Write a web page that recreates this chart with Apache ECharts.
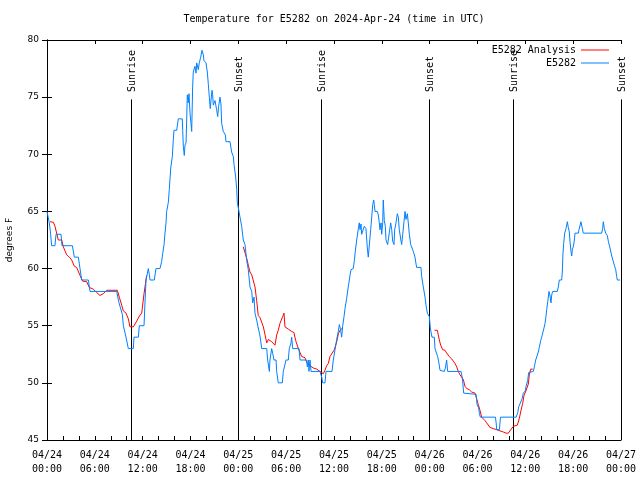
<!DOCTYPE html>
<html>
<head>
<meta charset="utf-8">
<script src="https://cdn.jsdelivr.net/npm/echarts@6/dist/echarts.min.js"></script>
<style>html,body{margin:0;padding:0;background:#fff}#main{width:640px;height:480px}</style>
</head>
<body>
<div id="main"></div>
<script>
// hours since 2024-04-24 00:00 UTC
const tickLabels = ['04/24\n00:00','04/24\n06:00','04/24\n12:00','04/24\n18:00','04/25\n00:00','04/25\n06:00','04/25\n12:00','04/25\n18:00','04/26\n00:00','04/26\n06:00','04/26\n12:00','04/26\n18:00','04/27\n00:00'];
const yTicks = [45, 50, 55, 60, 65, 70, 75, 80];

const eventHours = [10.48, 23.9, 34.42, 47.97, 58.51, 71.98];
const eventNames = ['Sunrise', 'Sunset', 'Sunrise', 'Sunset', 'Sunrise', 'Sunset'];

const obsHours = [0.0,0.29,0.46,0.58,1.0,1.13,1.76,1.88,3.18,3.43,3.93,4.14,4.35,5.19,5.39,8.74,9.03,9.28,9.45,9.58,9.91,10.2,10.83,10.91,11.46,11.58,12.17,12.29,12.42,12.71,12.83,12.92,13.46,13.67,14.17,14.38,14.51,14.68,14.8,14.93,15.01,15.22,15.34,15.52,15.72,15.84,15.93,16.27,16.47,16.97,17.02,17.1,17.22,17.31,17.44,17.52,17.6,17.72,17.81,17.94,18.06,18.15,18.27,18.35,18.56,18.69,18.78,18.98,19.1,19.28,19.44,19.61,19.69,19.94,20.11,20.23,20.36,20.48,20.57,20.7,20.78,20.86,21.07,21.28,21.41,21.53,21.7,21.82,21.91,22.11,22.37,22.45,22.96,23.16,23.37,23.46,23.67,23.8,23.87,24.21,24.42,24.62,24.84,25.05,25.25,25.46,25.68,25.8,25.97,26.09,26.3,26.5,26.72,26.93,27.56,27.68,27.89,27.97,28.18,28.31,28.47,28.73,28.81,29.01,29.52,29.64,29.85,29.98,30.27,30.39,30.61,30.69,30.82,31.61,31.74,32.57,32.65,32.78,32.86,32.99,33.12,34.24,34.46,34.58,34.87,35.0,35.75,35.91,36.13,36.34,36.54,36.67,36.84,36.96,37.09,37.26,37.38,37.59,37.79,38.01,38.13,38.42,38.55,38.72,38.85,39.05,39.17,39.26,39.39,39.47,39.68,39.8,40.01,40.18,40.3,40.52,40.6,40.73,40.86,40.98,41.06,41.14,41.43,41.56,41.68,41.77,41.9,41.98,42.11,42.18,42.31,42.44,42.52,42.73,42.94,43.11,43.24,43.36,43.53,43.61,43.78,43.94,44.07,44.19,44.41,44.49,44.62,44.78,44.91,45.03,45.2,45.32,45.45,45.62,45.87,45.95,46.16,46.29,46.37,46.91,47.0,47.2,47.42,47.54,47.71,47.96,48.08,48.29,48.58,48.67,48.87,49.0,49.12,49.3,49.84,49.97,50.13,50.26,51.94,52.07,52.14,52.27,53.82,53.95,54.15,54.24,54.36,56.25,56.34,56.41,56.75,56.88,58.85,59.05,59.17,59.38,59.59,59.75,60.0,60.09,60.29,60.42,60.6,61.0,61.13,61.3,61.5,61.63,61.75,61.93,62.05,62.26,62.34,62.47,62.59,62.68,62.81,62.97,63.1,63.22,63.31,63.43,64.01,64.14,64.26,64.56,64.64,64.72,64.81,64.94,65.1,65.27,65.39,65.52,65.6,65.73,65.82,65.9,66.02,66.15,66.23,66.65,66.73,66.86,66.98,67.15,67.27,69.58,69.7,69.78,69.91,70.08,70.28,70.41,70.62,70.84,71.04,71.16,71.34,71.46,71.54,71.88];
const obsTemps = [65,64,63,62,62,63,63,62,62,61,61,60,59,59,58,58,57,57,56,55,54,53,53,54,54,55,55,57,59,60,59.5,59,59,60,60,60.6,61.3,62.1,63.1,64,65,65.8,66.9,68.8,69.8,71.2,72.1,72.1,73.1,73.1,72.1,70.7,69.9,70.8,71,73,75.2,74.5,75.3,73.6,72.7,72.0,75.9,77.2,77.7,77.1,78.0,77.4,78.0,78.5,79.1,78.7,78.2,78.0,77.2,76.2,75.0,74.0,74.7,75.6,75.2,74.3,74.7,73.9,73.3,74.2,75.0,74.4,72.7,72.0,71.7,71.1,71.1,70.2,69.8,69.1,68.0,66.9,65.8,64.5,63.7,62.5,62.1,60.7,59.9,58.4,58.0,57.0,57.5,56.1,55.5,54.8,54.1,53.0,53.0,52.0,51.0,52.0,53.0,52.6,52.0,52.0,51.0,50.0,50.0,51.0,51.0,52.0,52.0,53.0,53.5,54.0,53.0,53.0,52.0,52.0,51.4,52.0,51.0,52.0,51.0,51.0,50.5,50.0,50.0,51.0,51.0,52.0,52.9,53.8,54.5,55.1,54.6,54.0,55.0,55.8,56.5,57.4,58.4,59.4,59.9,60.0,60.7,61.8,62.5,63.5,64.0,63.4,63.9,63.0,63.0,63.7,63.5,61.8,61.0,61.0,63.4,64.5,65.6,66.0,65.6,65.0,65.0,64.7,64.0,63.4,64.0,63.0,64.0,66.0,64.2,63.7,62.5,62.1,62.1,64.0,63.4,62.4,62.1,63.4,64.0,64.8,64.5,63.4,62.4,62.1,63.0,64.1,65.0,64.3,64.8,64.0,63.0,62.1,62.1,61.5,61.0,60.4,60.1,60.1,59.3,58.4,57.5,56.8,56.1,55.8,54.8,54.0,54.0,53.0,53.0,52.3,51.9,51.1,51.0,51.3,52.0,51.0,51.0,50.5,50.1,49.1,49.0,48.1,47.8,47.3,47.0,47.0,46.5,45.9,45.9,47.0,47.0,47.4,47.9,48.0,48.6,49.1,49.3,49.7,50.2,50.9,51.0,51.0,51.4,52.0,52.0,52.7,53.1,53.7,54.0,54.0,54.8,55.2,55.8,56.4,57.1,58.0,57.6,57.0,57.7,58.0,58.0,58.4,59.0,59.0,59.7,61.3,62.2,63.1,63.5,64.1,63.6,63.2,62.4,61.5,61.1,61.7,61.9,62.5,63.1,63.1,63.4,63.5,64.1,63.5,63.1,63.1,63.5,64.1,63.5,63.1,62.9,62.4,61.8,61.1,61.0,60.3,59.9,59.3,59.0,59.0];

// analysis: null marks a break between segments
const anaHours = [0.38,0.8,1.0,1.42,1.63,1.84,2.05,2.47,2.8,3.1,3.43,3.72,4.14,4.47,4.98,5.31,5.81,6.23,6.65,7.07,7.49,8.82,9.07,9.37,9.57,9.91,10.2,10.41,10.83,11.25,11.6,11.88,12.17,12.5,
  18.0,
  24.62,24.84,25.05,25.25,25.46,25.68,25.88,26.09,26.3,26.5,26.72,26.93,27.14,27.35,27.56,27.77,28.18,28.6,28.81,29.01,29.22,29.56,29.73,29.85,30.27,30.69,30.98,31.19,31.53,31.95,32.36,32.57,32.99,33.41,33.83,34.24,34.66,34.87,35.08,35.29,35.5,35.71,36.04,36.34,36.55,36.75,37.09,
  42.0,
  48.62,48.96,49.08,49.21,49.38,49.63,49.92,50.14,50.46,50.76,50.97,51.18,51.39,51.59,51.81,52.02,52.22,52.43,52.65,52.97,53.27,53.69,53.9,54.1,54.31,54.52,54.94,55.15,55.56,55.98,56.41,56.82,57.24,57.58,57.87,58.17,58.5,59.0,59.25,59.46,59.67,59.83,60.08,60.37,60.5,60.67,60.93];
const anaTemps = [64.1,64.05,63.7,62.5,62.35,62.5,61.9,61.2,61.0,60.75,60.2,60.1,59.4,58.9,58.85,58.35,58.2,57.9,57.65,57.8,58.1,58.1,57.5,56.8,56.3,56.1,55.6,54.9,54.9,55.4,55.85,56.1,57.8,59.4,
  null,
  61.9,61.8,60.9,60.3,59.7,59.45,59.45,58.4,57.2,55.9,55.7,55.6,54.9,54.2,53.5,53.8,53.6,53.3,54.2,54.6,55.2,55.8,56.1,54.9,54.7,54.5,54.4,53.7,53.0,52.3,52.2,51.8,51.5,51.3,51.2,51.0,50.8,51.1,51.5,51.7,52.3,52.4,52.9,53.6,54.3,54.6,54.8,
  null,
  54.6,54.6,54.2,53.75,53.3,52.9,52.85,52.6,52.3,52.1,52.0,51.7,51.4,51.0,50.7,50.7,50.3,49.7,49.5,49.4,49.2,49.1,48.6,48.1,47.6,47.0,46.7,46.5,46.1,46.0,45.9,45.8,45.7,45.6,45.6,45.9,46.2,46.3,46.9,47.6,48.2,48.9,49.3,49.9,50.7,51.2,51.2];

const MONO = '"DejaVu Sans Mono", "Liberation Mono", monospace';
const SANS = '"DejaVu Sans", "Liberation Sans", sans-serif';
const lineTop = 74.8;
const labelBase = 75.45;

const obsData = obsHours.map((h, i) => [h, obsTemps[i]]);
const anaData = anaHours.map((h, i) => [h, anaTemps[i] === null ? '-' : anaTemps[i]]);

const chart = echarts.init(document.getElementById('main'), null, {renderer: 'canvas'});
chart.setOption({
  animation: false,
  backgroundColor: '#fff',
  title: {
    text: 'Temperature for E5282 on 2024-Apr-24 (time in UTC)',
    left: 334, top: 14, textAlign: 'center', padding: 0,
    textStyle: {fontFamily: MONO, fontSize: 10, fontWeight: 'normal', color: '#000'}
  },
  legend: {
    orient: 'vertical', right: 31, top: 45, align: 'right', padding: 0,
    itemWidth: 28, itemHeight: 1, itemGap: 3, icon: 'rect',
    textStyle: {fontFamily: MONO, fontSize: 10, color: '#000', lineHeight: 10},
    data: ['E5282 Analysis', 'E5282']
  },
  grid: {left: 47, right: 19, top: 40, bottom: 40, containLabel: false, outerBoundsMode: 'none'},
  xAxis: [{
    type: 'value', min: 0, max: 72, interval: 6,
    axisLine: {lineStyle: {color: '#000', width: 1}},
    axisTick: {inside: true, length: 4, lineStyle: {color: '#000'}},
    minorTick: {show: true, splitNumber: 3, length: 4, lineStyle: {color: '#000'}},
    splitLine: {show: false},
    axisLabel: {
      margin: 8, color: '#000', fontFamily: MONO, fontSize: 10, lineHeight: 14,
      formatter: v => tickLabels[Math.round(v / 6)] || ''
    }
  }, {
    type: 'value', position: 'top', min: 0, max: 72, interval: 6,
    axisLine: {show: true, lineStyle: {color: '#000', width: 1}},
    axisTick: {show: true, inside: true, length: 4, lineStyle: {color: '#000'}},
    axisLabel: {show: false}, splitLine: {show: false}
  }],
  yAxis: [{
    type: 'value', min: 45, max: 80, interval: 5,
    name: 'degrees F', nameLocation: 'middle', nameGap: 33, nameRotate: 90,
    nameTextStyle: {fontFamily: SANS, fontSize: 9, color: '#000'},
    axisLine: {show: true, lineStyle: {color: '#000', width: 1}},
    axisTick: {show: true, inside: true, length: 5, lineStyle: {color: '#000'}},
    splitLine: {show: false},
    axisLabel: {margin: 8, color: '#000', fontFamily: SANS, fontSize: 9,
      formatter: v => yTicks.indexOf(v) >= 0 ? String(v) : ''}
  }, {
    type: 'value', position: 'right', min: 45, max: 80, interval: 5,
    axisLine: {show: true, lineStyle: {color: '#000', width: 1}},
    axisTick: {show: true, inside: true, length: 5, lineStyle: {color: '#000'}},
    axisLabel: {show: false}, splitLine: {show: false}
  }],
  series: [{
    type: 'custom', name: 'events', silent: true, z: 1,
    xAxisIndex: 0, yAxisIndex: 0,
    data: eventHours.map(h => [h, lineTop]),
    renderItem: (params, api) => {
      const h = api.value(0);
      const p0 = api.coord([h, 45]);
      const p1 = api.coord([h, lineTop]);
      const pt = api.coord([h, labelBase]);
      const x = Math.round(p0[0]) + 0.5;
      return {
        type: 'group',
        children: [
          {type: 'line', shape: {x1: x, y1: p0[1], x2: x, y2: p1[1]}, style: {stroke: '#000', lineWidth: 1}},
          {type: 'text', x: x + 0.5, y: pt[1], rotation: Math.PI / 2,
            style: {text: eventNames[params.dataIndex], fill: '#000', fontFamily: MONO, fontSize: 10, align: 'left', verticalAlign: 'middle'}}
        ]
      };
    }
  }, {
    type: 'line', name: 'E5282 Analysis', data: anaData, symbol: 'none', z: 2,
    connectNulls: false,
    lineStyle: {color: '#ff0000', width: 1}, itemStyle: {color: '#ff0000'}
  }, {
    type: 'line', name: 'E5282', data: obsData, symbol: 'none', z: 3,
    lineStyle: {color: '#0080ff', width: 1}, itemStyle: {color: '#0080ff'}
  }]
});
</script>
</body>
</html>
